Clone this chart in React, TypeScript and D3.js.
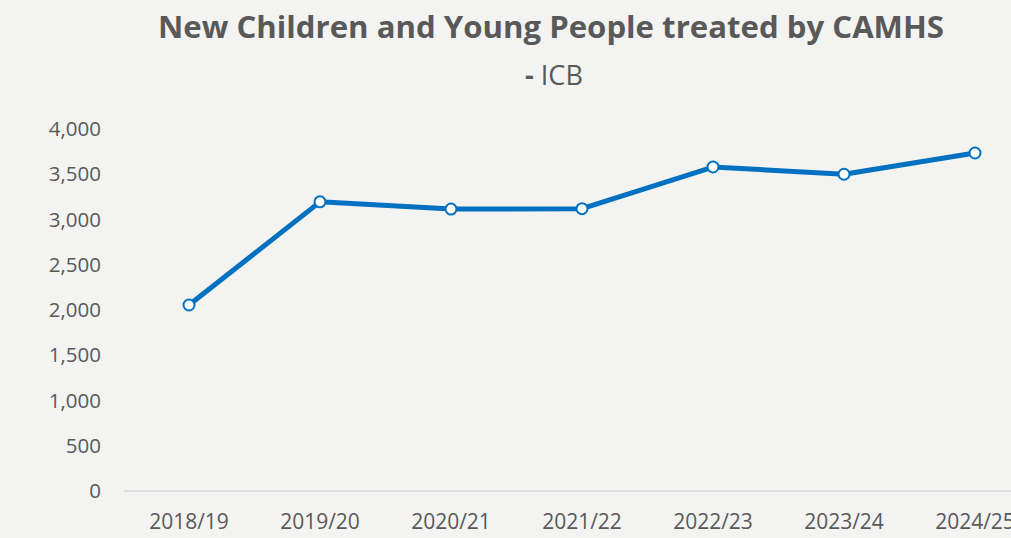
import React from "react";
import * as d3 from "d3";

const years = ["2018/19", "2019/20", "2020/21", "2021/22", "2022/23", "2023/24", "2024/25"];
const treated = [2055, 3195, 3115, 3120, 3580, 3500, 3735];
const yTicks = [0, 500, 1000, 1500, 2000, 2500, 3000, 3500, 4000];

const W = 1011;
const H = 538;
const TEXT = "#595959";
const BLUE = "#0070c0";
const FONT = "'Open Sans', 'Noto Sans', sans-serif";

export default function App() {
  const x = d3.scalePoint<string>().domain(years).range([189, 975]);
  const y = d3.scaleLinear().domain([0, 4000]).range([491, 129]);
  const line = d3
    .line<number>()
    .x((_, i) => x(years[i]) as number)
    .y((d) => y(d));

  return (
    <svg
      width={W}
      height={H}
      style={{ position: "fixed", left: 0, top: 0, display: "block" }}
      fontFamily={FONT}
    >
      <rect width={W} height={H} fill="#f3f3f2" />

      <text
        x={551}
        y={38}
        textAnchor="middle"
        fontSize={30}
        fontWeight={700}
        fill={TEXT}
        textLength={786}
        lengthAdjust="spacingAndGlyphs"
      >
        New Children and Young People treated by CAMHS
      </text>
      <text
        x={554}
        y={85}
        textAnchor="middle"
        fontSize={27}
        fill={TEXT}
        textLength={58}
        lengthAdjust="spacingAndGlyphs"
      >
        <tspan fontWeight={700}>-</tspan> ICB
      </text>

      {yTicks.map((t) => (
        <text
          key={t}
          x={101}
          y={y(t)}
          dy="0.35em"
          textAnchor="end"
          fontSize={20.5}
          fill={TEXT}
        >
          {d3.format(",")(t)}
        </text>
      ))}

      <line x1={124} x2={W} y1={y(0)} y2={y(0)} stroke="#d9d9d9" strokeWidth={1.5} />

      {years.map((c) => (
        <text key={c} x={x(c)} y={529} textAnchor="middle" fontSize={21} fill={TEXT}>
          {c}
        </text>
      ))}

      <path
        d={line(treated) ?? ""}
        fill="none"
        stroke={BLUE}
        strokeWidth={5}
        strokeLinejoin="round"
      />
      {treated.map((v, i) => (
        <circle
          key={years[i]}
          cx={x(years[i])}
          cy={y(v)}
          r={5.5}
          fill="#ffffff"
          stroke={BLUE}
          strokeWidth={2}
        />
      ))}
    </svg>
  );
}
